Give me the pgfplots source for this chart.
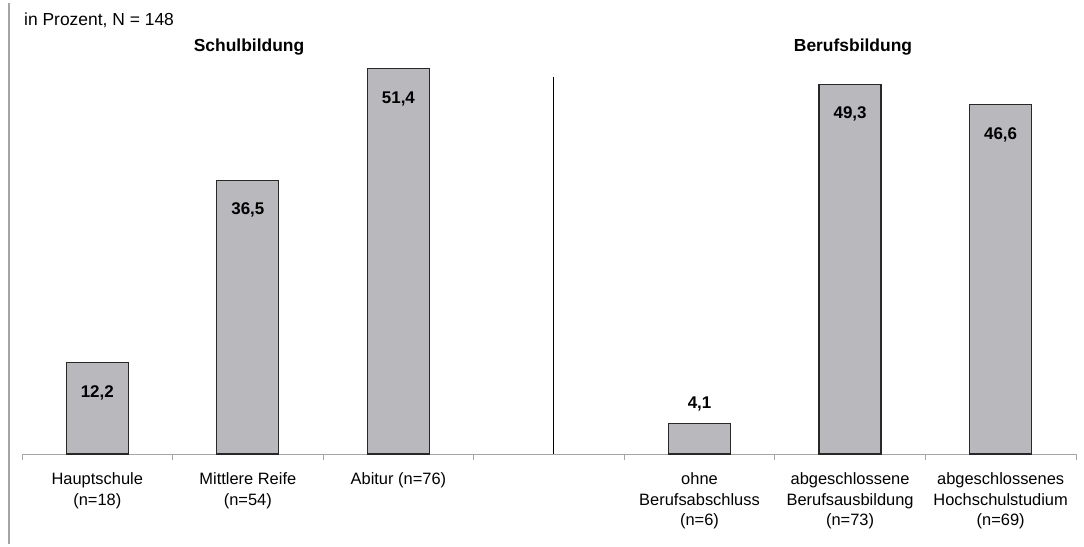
\documentclass[border=0pt]{standalone}
\usepackage{pgfplots}
\pgfplotsset{compat=1.18}
\usepackage{fontspec}
\setmainfont{Liberation Sans}
\definecolor{barfill}{RGB}{185,185,189}
\definecolor{baredge}{RGB}{40,40,40}
\definecolor{axgray}{RGB}{165,165,165}
\begin{document}
\begin{tikzpicture}
\useasboundingbox (0,0) rectangle (1084bp,547bp);
\draw[axgray, line width=1.3bp] (9bp,3bp) -- (9bp,544bp);
\node[anchor=west, inner sep=0, font=\fontsize{17.5}{20}\selectfont] at (24bp,527bp) {in Prozent, N = 148};
\node[inner sep=0, font=\fontsize{17.5}{20}\selectfont\bfseries] at (249bp,500bp) {Schulbildung};
\node[inner sep=0, font=\fontsize{17.5}{20}\selectfont\bfseries] at (853bp,500bp) {Berufsbildung};
\begin{axis}[
  at={(22bp,93bp)}, anchor=south west,
  scale only axis, width=1054bp, height=420bp,
  xmin=-0.5, xmax=6.5, ymin=0, ymax=56,
  axis x line=bottom, axis y line=none,
  x axis line style={-, axgray, line width=1bp},
  xtick={0,1,2,4,5,6},
  xticklabels={{Hauptschule\\(n=18)},{Mittlere Reife\\(n=54)},{Abitur (n=76)},{ohne\\Berufsabschluss\\(n=6)},{abgeschlossene\\Berufsausbildung\\(n=73)},{abgeschlossenes\\Hochschulstudium\\(n=69)}},
  major tick length=0pt,
  minor xtick={-0.5,0.5,1.5,2.5,3.5,4.5,5.5,6.5},
  minor tick length=6bp,
  xtick align=outside,
  every tick/.style={axgray, line width=0.8bp},
  xticklabel style={align=center, anchor=north, inner sep=0pt, yshift=-18bp, font=\fontsize{16.5}{21}\selectfont},
  clip=false,
]
\addplot[ybar, bar width=62bp, fill=barfill, draw=baredge, line width=1.2bp,
  point meta=explicit symbolic, nodes near coords,
  every node near coord/.style={anchor=center, yshift=-30bp, font=\fontsize{17}{20}\selectfont\bfseries, inner sep=0pt}]
  coordinates {(0,12.2) [12,2] (1,36.5) [36,5] (2,51.4) [51,4] (5,49.3) [49,3] (6,46.6) [46,6]};
\addplot[ybar, bar width=62bp, fill=barfill, draw=baredge, line width=1.2bp,
  point meta=explicit symbolic, nodes near coords,
  every node near coord/.style={anchor=center, yshift=19bp, font=\fontsize{17}{20}\selectfont\bfseries, inner sep=0pt}]
  coordinates {(4,4.1) [4,1]};
\draw[black, line width=1.3bp] (axis cs:3.03,0) -- (axis cs:3.03,50.3);
\end{axis}
\end{tikzpicture}
\end{document}
